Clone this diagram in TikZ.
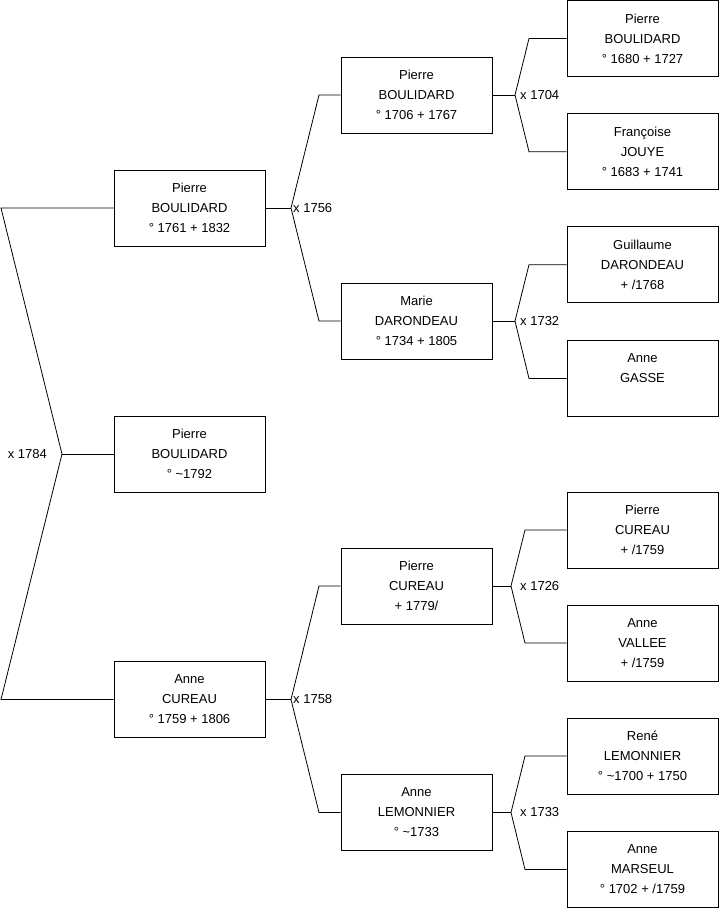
\documentclass[tikz,border=0pt]{standalone}
\usepackage{fontspec}
\setmainfont{Liberation Sans}

\begin{document}
\begin{tikzpicture}[
  x=1pt, y=-1pt,
  person/.style={draw, line width=0.8pt, minimum width=151pt, minimum height=76pt,
    align=center, inner sep=0pt, font=\fontsize{13}{20}\selectfont},
  union/.style={inner sep=1pt, font=\fontsize{13}{16}\selectfont},
  link/.style={line width=0.8pt}
]
\useasboundingbox (0,0) rectangle (719,908);

% generation 1
\node[person] (p1) at (189.5,208) {Pierre\\BOULIDARD\\° 1761 + 1832};
\node[person] (p2) at (189.5,454) {Pierre\\BOULIDARD\\° \textasciitilde1792};
\node[person] (p3) at (189.5,699.5) {Anne\\CUREAU\\° 1759 + 1806};

% generation 2
\node[person] (gp1) at (416.5,95) {Pierre\\BOULIDARD\\° 1706 + 1767};
\node[person] (gp2) at (416.5,321) {Marie\\DARONDEAU\\° 1734 + 1805};
\node[person] (gp3) at (416.5,586) {Pierre\\CUREAU\\+ 1779/};
\node[person] (gp4) at (416.5,812.5) {Anne\\LEMONNIER\\° \textasciitilde1733};

% generation 3
\node[person] (ggp1) at (642.5,38.5) {Pierre\\BOULIDARD\\° 1680 + 1727};
\node[person] (ggp2) at (642.5,151.7) {Françoise\\JOUYE\\° 1683 + 1741};
\node[person] (ggp3) at (642.5,264.7) {Guillaume\\DARONDEAU\\+ /1768};
\node[person] (ggp4) at (642.5,378.5) {Anne\\GASSE\\\mbox{}};
\node[person] (ggp5) at (642.5,530) {Pierre\\CUREAU\\+ /1759};
\node[person] (ggp6) at (642.5,643) {Anne\\VALLEE\\+ /1759};
\node[person] (ggp7) at (642.5,756) {René\\LEMONNIER\\° \textasciitilde1700 + 1750};
\node[person] (ggp8) at (642.5,869.5) {Anne\\MARSEUL\\° 1702 + /1759};

% marriages
\coordinate (m0) at (62,454);
\coordinate (r0) at (1,454);
\draw[link] (p1.west) -- (p1.west -| r0) -- (m0) -- (p3.west -| r0) -- (p3.west);
\draw[link] (m0) -- (p2.west);
\node[union, anchor=east] (u0) at (48,454) {x 1784};

\coordinate (m1) at (291,208);
\coordinate (r1) at (319,208);
\draw[link] (p1.east) -- (m1);
\draw[link] (gp1.west) -- (gp1.west -| r1) -- (m1) -- (gp2.west -| r1) -- (gp2.west);
\node[union, anchor=west] (u1) at ([xshift=1pt]m1) {x 1756};

\coordinate (m2) at (291,699.5);
\coordinate (r2) at (319,699.5);
\draw[link] (p3.east) -- (m2);
\draw[link] (gp3.west) -- (gp3.west -| r2) -- (m2) -- (gp4.west -| r2) -- (gp4.west);
\node[union, anchor=west] (u2) at ([xshift=1pt]m2) {x 1758};

\coordinate (m3) at (515,95);
\coordinate (r3) at (529,95);
\draw[link] (gp1.east) -- (m3);
\draw[link] (ggp1.west) -- (ggp1.west -| r3) -- (m3) -- (ggp2.west -| r3) -- (ggp2.west);
\node[union, anchor=west] (u3) at ([xshift=4pt]m3) {x 1704};

\coordinate (m4) at (515,321);
\coordinate (r4) at (529,321);
\draw[link] (gp2.east) -- (m4);
\draw[link] (ggp3.west) -- (ggp3.west -| r4) -- (m4) -- (ggp4.west -| r4) -- (ggp4.west);
\node[union, anchor=west] (u4) at ([xshift=4pt]m4) {x 1732};

\coordinate (m5) at (511,586);
\coordinate (r5) at (525,586);
\draw[link] (gp3.east) -- (m5);
\draw[link] (ggp5.west) -- (ggp5.west -| r5) -- (m5) -- (ggp6.west -| r5) -- (ggp6.west);
\node[union, anchor=west] (u5) at ([xshift=8pt]m5) {x 1726};

\coordinate (m6) at (511,812.5);
\coordinate (r6) at (525,812.5);
\draw[link] (gp4.east) -- (m6);
\draw[link] (ggp7.west) -- (ggp7.west -| r6) -- (m6) -- (ggp8.west -| r6) -- (ggp8.west);
\node[union, anchor=west] (u6) at ([xshift=8pt]m6) {x 1733};
\end{tikzpicture}
\end{document}
